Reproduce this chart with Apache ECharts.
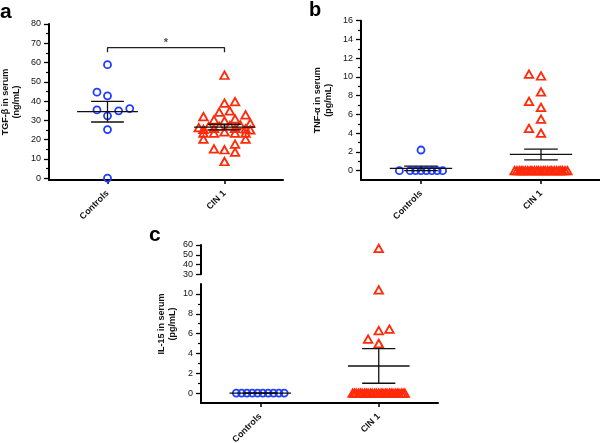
<!DOCTYPE html>
<html><head><meta charset="utf-8">
<script src="https://cdn.jsdelivr.net/npm/echarts@6/dist/echarts.min.js"></script>
<style>html,body{margin:0;padding:0;background:#fff}#c{width:600px;height:443px}</style>
</head><body><div id="c"></div>
<script>
// ---------- data ----------
const groups = ['Controls', 'CIN 1'];

// Panel a: TGF-β in serum (ng/mL)
const tgfControls       = [58.9, 44.6, 42.7, 36.1, 35.4, 34.9, 32.3, 25.2, 0];
const tgfControlsJitter = [0, -0.09, 0, 0.19, -0.09, 0.095, 0, 0, 0];
const tgfCIN = [53.4, 39.7, 38.9, 34.9, 34.2, 32.8, 31.9, 30.7, 30.2, 29.7, 28.5,
                27.6, 27.2, 26.9, 26.9, 26.2, 25.5, 25.0, 25.3, 25.8, 25.8, 24.0,
                23.3, 23.3, 23.3, 23.3, 20.2, 20.2, 17.6, 15.2, 14.7, 13.5, 8.6];
const tgfCINJitter = [0, 0.09, 0, 0.045, -0.045, 0.18, -0.18, 0.09, -0.09, 0, 0.22,
                0.135, 0.045, -0.045, -0.135, -0.22, 0.18, 0.22, -0.18, 0.09, -0.09, 0,
                -0.18, -0.09, 0.09, 0.18, -0.18, 0.18, 0.09, -0.09, 0, 0.09, 0];
const tgfMajorTicks = [0, 10, 20, 30, 40, 50, 60, 70, 80];
const tgfMinorTicks = [5, 15, 25, 35, 45, 55, 65, 75];
const sigPair = [0, 1];
const sigLevel = 67.7;
const sigMark = '*';

// Panel b: TNF-α in serum (pg/mL)
const tnfControls       = [2.2, 0, 0, 0, 0, 0, 0, 0, 0];
const tnfControlsJitter = [0, -0.18, -0.09, -0.045, 0, 0.045, 0.09, 0.135, 0.18];
const tnfCIN = [10.3, 10.1, 8.4, 7.4, 6.75, 5.5, 4.5, 4.0,
                0, 0, 0, 0, 0, 0, 0, 0, 0, 0, 0, 0, 0, 0, 0, 0, 0, 0, 0, 0, 0, 0, 0, 0, 0];
const tnfCINJitter = [-0.1, 0, 0, -0.1, 0, 0, -0.1, 0,
                -0.22, -0.2, -0.18, -0.165, -0.15, -0.13, -0.11, -0.09, -0.075, -0.055, -0.035, -0.02, 0,
                0.02, 0.035, 0.055, 0.075, 0.09, 0.11, 0.13, 0.15, 0.165, 0.18, 0.2, 0.22];
const tnfMajorTicks = [0, 2, 4, 6, 8, 10, 12, 14, 16];
const tnfMinorTicks = [1, 3, 5, 7, 9, 11, 13, 15];

// Panel c: IL-15 in serum (pg/mL), broken axis
const il15Controls       = [0, 0, 0, 0, 0, 0, 0, 0, 0, 0];
const il15ControlsJitter = [-0.202, -0.157, -0.112, -0.067, -0.022, 0.022, 0.067, 0.112, 0.157, 0.202];
const il15CIN = [56.6, 10.4, 6.45, 6.3, 5.45, 5.0,
                0, 0, 0, 0, 0, 0, 0, 0, 0, 0, 0, 0, 0, 0, 0, 0, 0, 0, 0, 0, 0, 0, 0, 0, 0, 0, 0];
const il15CINJitter = [0, 0, 0.09, 0, -0.09, 0,
                -0.22, -0.205, -0.19, -0.17, -0.155, -0.14, -0.12, -0.105, -0.09, -0.07, -0.055, -0.035, -0.02, 0,
                0.02, 0.035, 0.055, 0.07, 0.09, 0.105, 0.12, 0.14, 0.155, 0.17, 0.19, 0.205, 0.22];
const il15LowerMajorTicks = [0, 2, 4, 6, 8, 10];
const il15LowerMinorTicks = [1, 3, 5, 7, 9];
const il15UpperMajorTicks = [30, 40, 50, 60];
const il15BreakLow = 11, il15BreakHigh = 30;

// ---------- helpers ----------
const FONT = "'Liberation Sans', Arial, Helvetica, sans-serif";
const BLUE = '#1f3cff', RED = '#ff2a0a';
const mean = a => a.reduce((s, v) => s + v, 0) / a.length;
const sem = a => { const m = mean(a); return Math.sqrt(a.reduce((s, v) => s + (v - m) * (v - m), 0) / (a.length - 1)) / Math.sqrt(a.length); };
const pts = (vals, jit, c, keep) => vals.map((v, i) => [c + jit[i], v]).filter(p => keep ? keep(p[1]) : true);

function xAxis(gi, show) {
  return {
    type: 'value', gridIndex: gi, min: -0.5, max: 1.5, show: show,
    splitLine: { show: false },
    axisLine: { show: true, onZero: false, lineStyle: { color: '#000', width: 2 } },
    axisTick: { show: true, customValues: [0, 1], length: 4, lineStyle: { color: '#000', width: 1.5 } },
    axisLabel: {
      customValues: [0, 1], formatter: v => groups[Math.round(v)], rotate: 45, margin: 12,
      fontFamily: FONT, fontSize: 9, fontWeight: 'bold', color: '#111'
    }
  };
}
function yMajor(gi, min, max, ticks, name) {
  const ax = {
    type: 'value', gridIndex: gi, min: min, max: max, position: 'left',
    splitLine: { show: false },
    axisLine: { show: true, onZero: false, lineStyle: { color: '#000', width: 2 } },
    axisTick: { show: true, customValues: ticks, length: 5, lineStyle: { color: '#000', width: 1.3 } },
    axisLabel: { customValues: ticks, margin: 8, fontFamily: FONT, fontSize: 9, color: '#111' }
  };
  if (name) {
    ax.name = name; ax.nameLocation = 'middle'; ax.nameGap = 27;
    ax.nameTextStyle = { fontFamily: FONT, fontSize: 9, fontWeight: 'bold', color: '#111', lineHeight: 11 };
  }
  return ax;
}
function yMinor(gi, min, max, ticks) {
  return {
    type: 'value', gridIndex: gi, min: min, max: max, position: 'left', offset: 0,
    splitLine: { show: false },
    axisLine: { show: false, onZero: false },
    axisTick: { show: true, customValues: ticks, length: 3, lineStyle: { color: '#000', width: 1.2 } },
    axisLabel: { show: false }
  };
}
function scatter(xi, yi, data, isCircle) {
  return {
    type: 'scatter', xAxisIndex: xi, yAxisIndex: yi, data: data, silent: true,
    symbol: isCircle ? 'circle' : 'triangle',
    symbolSize: isCircle ? 7 : [8.5, 7.5],
    itemStyle: { color: 'rgba(0,0,0,0)', borderColor: isCircle ? BLUE : RED, borderWidth: 1.8, opacity: 1 },
    z: 2
  };
}
function meanSem(xi, yi, setA, setB) {
  return {
    type: 'custom', xAxisIndex: xi, yAxisIndex: yi, silent: true, z: 3,
    data: [[0, mean(setA), sem(setA)], [1, mean(setB), sem(setB)]],
    renderItem: (params, api) => {
      const c = api.value(0), m = api.value(1), s = api.value(2);
      const P = (x, y) => api.coord([x, y]);
      const seg = (a, b) => ({ type: 'line', shape: { x1: a[0], y1: a[1], x2: b[0], y2: b[1] },
        style: { stroke: '#111', lineWidth: 1.3 } });
      return { type: 'group', children: [
        seg(P(c - 0.26, m), P(c + 0.26, m)),
        seg(P(c, m - s), P(c, m + s)),
        seg(P(c - 0.14, m + s), P(c + 0.14, m + s)),
        seg(P(c - 0.14, m - s), P(c + 0.14, m - s))
      ] };
    }
  };
}

// ---------- chart ----------
const chart = echarts.init(document.getElementById('c'), null, { renderer: 'canvas' });
const option = {
  animation: false,
  backgroundColor: '#fff',
  grid: [
    { left: 49, top: 24, width: 234, height: 156, outerBoundsMode: 'none', containLabel: false },
    { left: 361, top: 20.7, width: 240, height: 159.3, outerBoundsMode: 'none', containLabel: false },
    { left: 201, top: 284, width: 237, height: 119, outerBoundsMode: 'none', containLabel: false },
    { left: 201, top: 245, width: 237, height: 29.3, outerBoundsMode: 'none', containLabel: false }
  ],
  xAxis: [xAxis(0, true), xAxis(1, true), xAxis(2, true), xAxis(3, false)],
  yAxis: [
    yMajor(0, -1, 80, tgfMajorTicks, 'TGF-β in serum\n(ng/mL)'),
    yMinor(0, -1, 80, tgfMinorTicks),
    yMajor(1, -1, 16, tnfMajorTicks, 'TNF-α in serum\n(pg/mL)'),
    yMinor(1, -1, 16, tnfMinorTicks),
    yMajor(2, -1, il15BreakLow, il15LowerMajorTicks),
    yMinor(2, -1, il15BreakLow, il15LowerMinorTicks),
    yMajor(3, il15BreakHigh, 60, il15UpperMajorTicks)
  ],
  series: [
    // panel a
    scatter(0, 0, pts(tgfControls, tgfControlsJitter, 0), true),
    scatter(0, 0, pts(tgfCIN, tgfCINJitter, 1), false),
    meanSem(0, 0, tgfControls, tgfCIN),
    { type: 'line', xAxisIndex: 0, yAxisIndex: 0, silent: true, symbol: 'none',
      data: [[sigPair[0], sigLevel - 2.4], [sigPair[0], sigLevel], [sigPair[1], sigLevel], [sigPair[1], sigLevel - 2.4]],
      lineStyle: { color: '#222', width: 1.3 } },
    { type: 'scatter', xAxisIndex: 0, yAxisIndex: 0, silent: true, symbol: 'circle', symbolSize: 1,
      itemStyle: { color: 'rgba(0,0,0,0)' },
      data: [[(sigPair[0] + sigPair[1]) / 2, sigLevel]],
      label: { show: true, position: 'top', distance: -1, formatter: sigMark, fontFamily: FONT, fontSize: 11, fontWeight: 'bold', color: '#222' } },
    // panel b
    scatter(1, 2, pts(tnfControls, tnfControlsJitter, 0), true),
    scatter(1, 2, pts(tnfCIN, tnfCINJitter, 1), false),
    meanSem(1, 2, tnfControls, tnfCIN),
    // panel c
    scatter(2, 4, pts(il15Controls, il15ControlsJitter, 0), true),
    scatter(2, 4, pts(il15CIN, il15CINJitter, 1, v => v <= il15BreakLow), false),
    scatter(3, 6, pts(il15CIN, il15CINJitter, 1, v => v >= il15BreakHigh), false),
    meanSem(2, 4, il15Controls, il15CIN)
  ],
  graphic: [
    { type: 'text', left: 0, top: 2, style: { text: 'a', font: "bold 21px " + FONT, fill: '#000' } },
    { type: 'text', left: 309, top: 0, style: { text: 'b', font: "bold 20px " + FONT, fill: '#000' } },
    { type: 'text', left: 149, top: 225, style: { text: 'c', font: "bold 21px " + FONT, fill: '#000' } },
    { type: 'text', x: 167, y: 324, rotation: Math.PI / 2,
      style: { text: 'IL-15 in serum\n(pg/mL)', font: "bold 9px " + FONT, lineHeight: 11, fill: '#111', align: 'center', verticalAlign: 'middle' } }
  ]
};
chart.setOption(option);
</script>
</body></html>
